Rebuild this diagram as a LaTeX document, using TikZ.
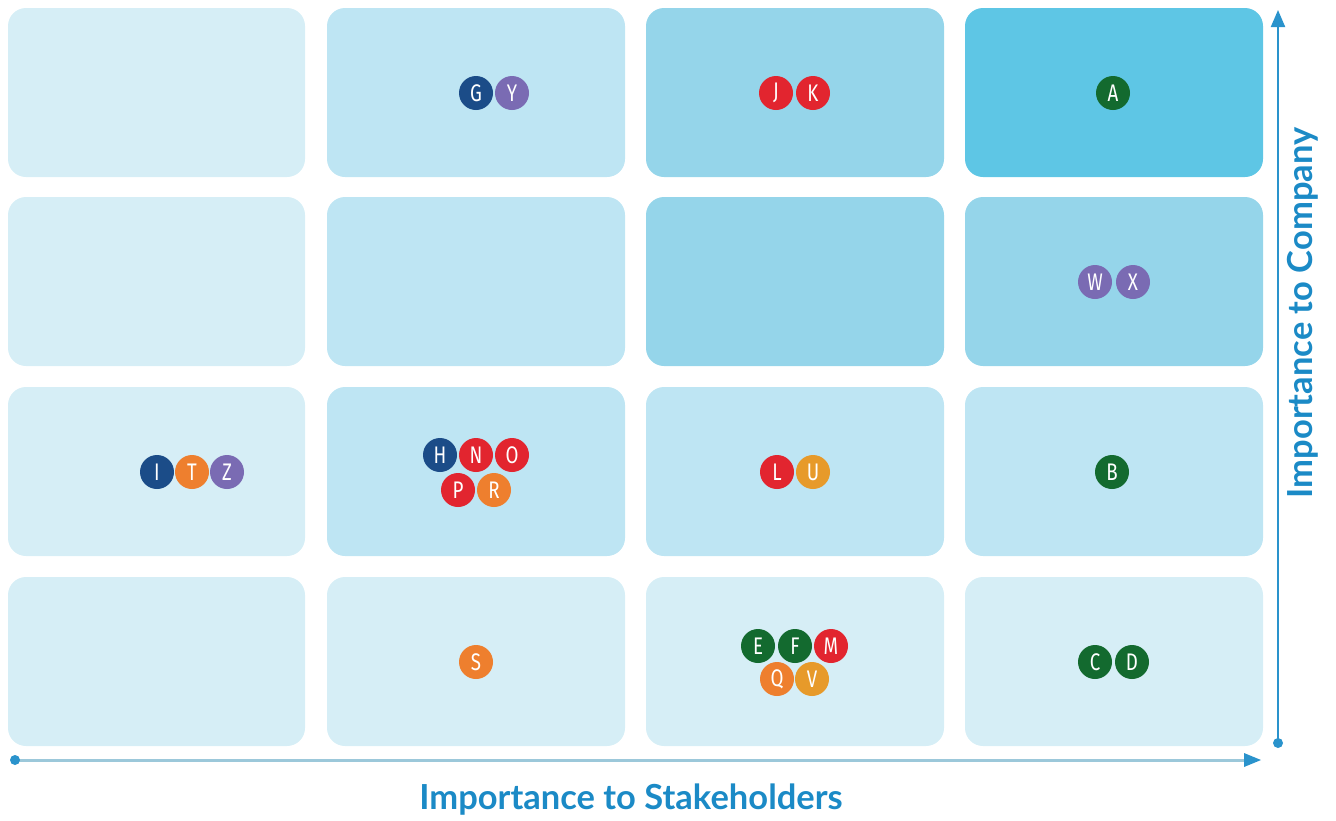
\documentclass[tikz,border=0pt]{standalone}
\usepackage{fontspec}
\setmainfont{Lato}
\newfontfamily\circfont[FakeStretch=0.78]{Fira Sans}
\usetikzlibrary{arrows.meta}
\definecolor{cA}{HTML}{D6EEF6}
\definecolor{cB}{HTML}{BEE5F3}
\definecolor{cC}{HTML}{95D5EA}
\definecolor{cD}{HTML}{5EC6E5}
\definecolor{dblue}{HTML}{1B4C88}
\definecolor{orng}{HTML}{EE7F2E}
\definecolor{purp}{HTML}{7A6BB3}
\definecolor{redd}{HTML}{E2252F}
\definecolor{grn}{HTML}{136A2F}
\definecolor{gold}{HTML}{E79A2A}
\definecolor{axisblue}{HTML}{2A93CC}
\definecolor{axisgray}{HTML}{9CC8DA}
\definecolor{labblue}{HTML}{1B8AC6}
\tikzset{
  x=1pt,y=-1pt,
  cell/.style={rounded corners=18pt},
  dotc/.style={circle,minimum size=34pt,inner sep=0pt,text=white,font=\circfont\fontsize{24}{24}\selectfont},
  axlabel/.style={text=labblue,font=\bfseries\fontsize{34.5}{34.5}\selectfont},
}
\begin{document}
\begin{tikzpicture}
\useasboundingbox (0,0) rectangle (1336,820);
% cells
\foreach \c/\xa/\xb in {1/8/305,2/327/625,3/646/944,4/965/1263}{
  \foreach \r/\ya/\yb in {1/8/177,2/197/366,3/387/556,4/577/746}{
    \coordinate (p\c\r a) at (\xa,\ya);
    \coordinate (p\c\r b) at (\xb,\yb);
  }
}
\fill[cA,cell] (p11a) rectangle (p11b);
\fill[cB,cell] (p21a) rectangle (p21b);
\fill[cC,cell] (p31a) rectangle (p31b);
\fill[cD,cell] (p41a) rectangle (p41b);
\fill[cA,cell] (p12a) rectangle (p12b);
\fill[cB,cell] (p22a) rectangle (p22b);
\fill[cC,cell] (p32a) rectangle (p32b);
\fill[cC,cell] (p42a) rectangle (p42b);
\fill[cA,cell] (p13a) rectangle (p13b);
\fill[cB,cell] (p23a) rectangle (p23b);
\fill[cB,cell] (p33a) rectangle (p33b);
\fill[cB,cell] (p43a) rectangle (p43b);
\fill[cA,cell] (p14a) rectangle (p14b);
\fill[cA,cell] (p24a) rectangle (p24b);
\fill[cA,cell] (p34a) rectangle (p34b);
\fill[cA,cell] (p44a) rectangle (p44b);
% dots
\node[dotc,fill=dblue] (G) at (476,93) {G};
\node[dotc,fill=purp] (Y) at (512,93) {Y};
\node[dotc,fill=redd] (J) at (776,93) {J};
\node[dotc,fill=redd] (K) at (813,93) {K};
\node[dotc,fill=grn] (A) at (1113,93) {A};
\node[dotc,fill=purp] (W) at (1095,282) {W};
\node[dotc,fill=purp] (X) at (1133,282) {X};
\node[dotc,fill=dblue] (I) at (157,472) {I};
\node[dotc,fill=orng] (T) at (192,472) {T};
\node[dotc,fill=purp] (Z) at (227,472) {Z};
\node[dotc,fill=dblue] (H) at (440,455) {H};
\node[dotc,fill=redd] (N) at (476,455) {N};
\node[dotc,fill=redd] (O) at (512,455) {O};
\node[dotc,fill=redd] (P) at (458,490) {P};
\node[dotc,fill=orng] (R) at (494,490) {R};
\node[dotc,fill=redd] (L) at (777,472) {L};
\node[dotc,fill=gold] (U) at (813,472) {U};
\node[dotc,fill=grn] (B) at (1112,472) {B};
\node[dotc,fill=orng] (S) at (476,662) {S};
\node[dotc,fill=grn] (E) at (758,646) {E};
\node[dotc,fill=grn] (F) at (795,646) {F};
\node[dotc,fill=redd] (M) at (831,646) {M};
\node[dotc,fill=orng] (Q) at (777,679) {Q};
\node[dotc,fill=gold] (V) at (812,679) {V};
\node[dotc,fill=grn] (C) at (1095,662) {C};
\node[dotc,fill=grn] (D) at (1132,662) {D};
% axes
\coordinate (h0) at (15,760);
\coordinate (h1) at (1261,760);
\coordinate (v0) at (1278,743);
\coordinate (v1) at (1278,10);
\draw[axisgray,line width=3pt] (h0) -- ([xshift=-14pt]h1);
\fill[axisblue] (h0) circle (5pt);
\draw[axisblue,line width=0pt,-{Triangle[length=17pt,width=14pt]}] ([xshift=-17pt]h1) -- (h1);
\draw[axisblue,line width=2pt,-{Triangle[length=17pt,width=14pt]}] (v0) -- (v1);
\fill[axisblue] (v0) circle (5pt);
\node[axlabel] (hl) at (631,800) {Importance to Stakeholders};
\node[axlabel,rotate=90] (vl) at (1303,313) {Importance to Company};
\end{tikzpicture}
\end{document}
